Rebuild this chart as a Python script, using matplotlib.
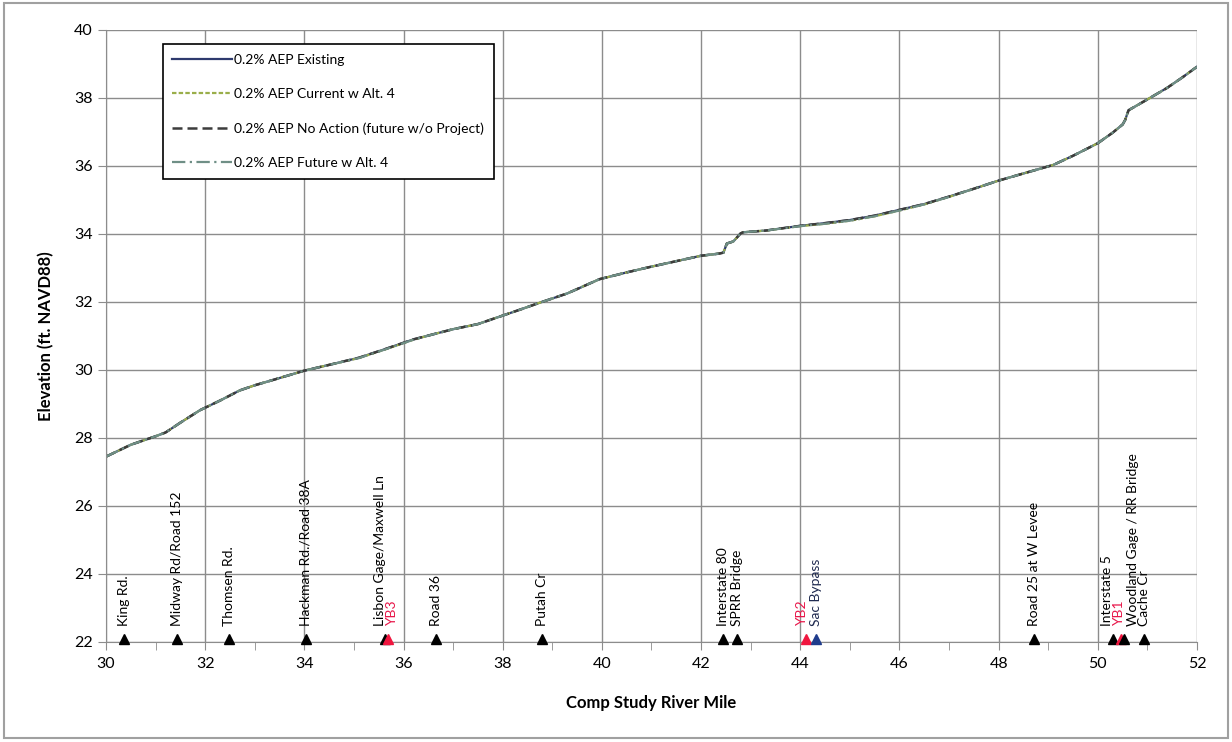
import matplotlib.pyplot as plt
from matplotlib.patches import Rectangle

plt.rcParams['font.family'] = ['Lato', 'DejaVu Sans']

# water surface profile, river mile vs elevation (ft NAVD88)
river_mile = [30.0, 30.5, 31.0, 31.2, 31.5, 31.9, 32.3, 32.7, 33.0, 33.4,
              34.0, 34.5, 35.1, 35.6, 36.2, 36.6, 37.0, 37.5, 37.9, 38.4,
              38.75, 39.3, 39.95, 40.5, 41.0, 41.5, 42.0, 42.35, 42.45, 42.52,
              42.65, 42.8, 42.85, 43.3, 44.0, 44.5, 45.0, 45.5, 46.0, 46.5,
              47.0, 47.5, 48.0, 48.5, 49.1, 49.5, 50.0, 50.3, 50.5, 50.55,
              50.62, 51.05, 51.4, 51.7, 52.0]
existing = [27.45, 27.8, 28.05, 28.16, 28.45, 28.82, 29.1, 29.4, 29.55, 29.72,
            29.98, 30.15, 30.36, 30.6, 30.9, 31.05, 31.2, 31.35, 31.55, 31.8,
            31.98, 32.25, 32.67, 32.87, 33.04, 33.2, 33.36, 33.42, 33.45, 33.72,
            33.78, 34.02, 34.05, 34.1, 34.24, 34.32, 34.41, 34.54, 34.71, 34.88,
            35.10, 35.33, 35.57, 35.78, 36.03, 36.3, 36.67, 36.98, 37.22, 37.35,
            37.64, 38.0, 38.3, 38.6, 38.92]
current_alt4 = [27.45, 27.8, 28.05, 28.16, 28.45, 28.82, 29.1, 29.4, 29.55, 29.72,
                29.98, 30.15, 30.35, 30.59, 30.89, 31.05, 31.2, 31.35, 31.55, 31.8,
                31.98, 32.25, 32.67, 32.87, 33.04, 33.2, 33.36, 33.42, 33.45, 33.72,
                33.78, 34.02, 34.05, 34.1, 34.23, 34.3, 34.39, 34.52, 34.69, 34.87,
                35.09, 35.33, 35.57, 35.78, 36.03, 36.3, 36.67, 36.98, 37.22, 37.35,
                37.64, 38.0, 38.3, 38.6, 38.92]
no_action = [27.45, 27.8, 28.05, 28.16, 28.45, 28.82, 29.1, 29.4, 29.55, 29.72,
             29.98, 30.15, 30.36, 30.6, 30.9, 31.05, 31.2, 31.35, 31.55, 31.8,
             31.98, 32.25, 32.67, 32.87, 33.04, 33.2, 33.36, 33.42, 33.45, 33.72,
             33.78, 34.02, 34.05, 34.1, 34.24, 34.32, 34.41, 34.54, 34.71, 34.88,
             35.10, 35.33, 35.57, 35.78, 36.03, 36.3, 36.67, 36.98, 37.22, 37.35,
             37.64, 38.0, 38.3, 38.6, 38.92]
future_alt4 = [27.45, 27.8, 28.05, 28.16, 28.45, 28.82, 29.1, 29.4, 29.55, 29.72,
               29.98, 30.15, 30.35, 30.59, 30.89, 31.05, 31.2, 31.35, 31.55, 31.8,
               31.98, 32.25, 32.67, 32.87, 33.04, 33.2, 33.36, 33.42, 33.45, 33.72,
               33.78, 34.02, 34.05, 34.1, 34.23, 34.3, 34.39, 34.52, 34.69, 34.87,
               35.09, 35.33, 35.57, 35.78, 36.03, 36.3, 36.67, 36.98, 37.22, 37.35,
               37.64, 38.0, 38.3, 38.6, 38.92]

# landmarks along the channel
landmark_names = ['King Rd.', 'Midway Rd/Road 152', 'Thomsen Rd.', 'Hackman Rd./Road 38A',
                  'Lisbon Gage/Maxwell Ln', 'YB3', 'Road 36', 'Putah Cr',
                  'Interstate 80', 'SPRR Bridge', 'YB2', 'Sac Bypass',
                  'Road 25 at W Levee', 'Interstate 5', 'YB1',
                  'Woodland Gage / RR Bridge', 'Cache Cr']
landmark_miles = [30.37, 31.43, 32.48, 34.03, 35.62, 35.68, 36.65, 38.79,
                  42.44, 42.72, 44.11, 44.31, 48.71, 50.30, 50.47, 50.53, 50.93]
landmark_kind = ['road', 'road', 'road', 'road', 'road', 'gage', 'road', 'road',
                 'road', 'road', 'gage', 'bypass', 'road', 'road', 'gage',
                 'road', 'road']

kind_marker_color = {'road': 'black', 'gage': '#F0163F', 'bypass': '#1F3C8C'}
kind_text_color = {'road': 'black', 'gage': '#E8174A', 'bypass': '#1F2A50'}
# small sideways nudges (pixels) so crowded labels do not overlap
label_nudge = {'Lisbon Gage/Maxwell Ln': -5, 'YB3': 4, 'YB2': -4, 'Interstate 5': -6,
               'YB1': -2, 'Woodland Gage / RR Bridge': 9}

fig = plt.figure(figsize=(12.32, 7.42), dpi=100)
ax = fig.add_axes([0.086, 0.1348, 0.8856, 0.8248])

ax.plot(river_mile, existing, color='#2E3A6E', lw=1.6, label='0.2% AEP Existing')
ax.plot(river_mile, current_alt4, color='#9AAE4A', lw=1.6, ls=(0, (2, 1)),
        label='0.2% AEP Current w Alt. 4')
ax.plot(river_mile, no_action, color='#3C3C3C', lw=1.8, ls=(0, (4, 2)),
        label='0.2% AEP No Action (future w/o Project)')
ax.plot(river_mile, future_alt4, color='#6F8F86', lw=1.6, ls=(0, (6, 2, 1, 2)),
        label='0.2% AEP Future w Alt. 4')

for name, mile, kind in zip(landmark_names, landmark_miles, landmark_kind):
    ax.plot(mile, 22.1, marker='^', ms=7, color=kind_marker_color[kind],
            clip_on=False, zorder=5)
    ax.annotate(name, xy=(mile, 22), xytext=(label_nudge.get(name, 0), 16),
                textcoords='offset pixels', rotation=90, ha='center', va='bottom',
                fontsize=10, color=kind_text_color[kind])

ax.set_xlim(30, 52)
ax.set_ylim(22, 40)
ax.set_xticks(range(30, 53, 2))
ax.set_xticks(range(31, 52, 2), minor=True)
ax.set_yticks(range(22, 41, 2))
ax.grid(True, which='major', color='#8C8C8C', lw=1)
ax.tick_params(axis='both', which='both', direction='out', color='#8C8C8C',
               labelsize=11.5, length=6)
ax.tick_params(axis='x', pad=5)
for side in ['top', 'right']:
    ax.spines[side].set_visible(False)
for side in ['left', 'bottom']:
    ax.spines[side].set_color('#8C8C8C')

ax.set_xlabel('Comp Study River Mile', fontsize=12, fontweight='bold', labelpad=17)
ax.set_ylabel('Elevation (ft. NAVD88)', fontsize=12, fontweight='bold', labelpad=14)

leg = ax.legend(loc='upper left', bbox_to_anchor=(0.052, 0.977), borderaxespad=0,
                fancybox=False, edgecolor='black', framealpha=1, fontsize=10,
                handlelength=4.3, labelspacing=1.6, handletextpad=0.15,
                borderpad=0.7)
leg.get_frame().set_linewidth(1.2)

fig.patches.append(Rectangle((0.003, 0.006), 0.994, 0.99, transform=fig.transFigure,
                             fill=False, edgecolor='#A0A0A0', lw=1.5))

fig.savefig('out.png', dpi=100)
